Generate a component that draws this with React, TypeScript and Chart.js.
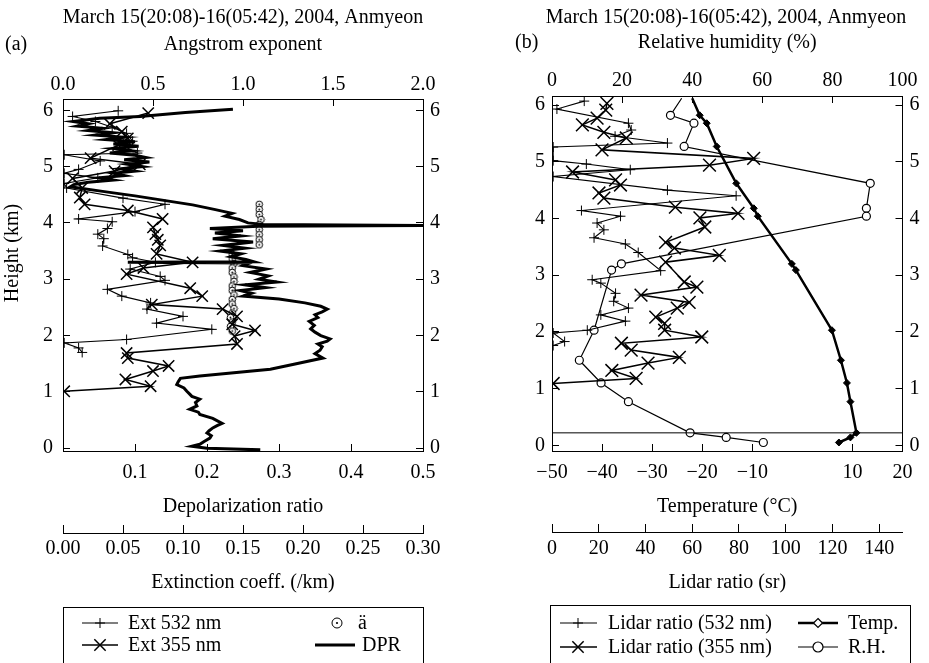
import React, { useEffect, useRef } from 'react';
import { Chart, registerables } from 'chart.js';

Chart.register(...registerables);

const SERIF = '"Liberation Serif", "DejaVu Serif", serif';
const FS = 20;

const panelTitle = 'March 15(20:08)-16(05:42), 2004, Anmyeon';

// ---------------- panel (a) ----------------
const heightTicks = [0, 1, 2, 3, 4, 5, 6];
const angstromTicks = [0, 0.5, 1, 1.5, 2];
const depolTicks = [0.1, 0.2, 0.3, 0.4, 0.5];
const extTicks = [0, 0.05, 0.1, 0.15, 0.2, 0.25, 0.3];

const dprHeight = [
  6.02, 5.96, 5.89, 5.86, 5.8, 5.76, 5.72, 5.68, 5.64, 5.6, 5.56, 5.52, 5.48, 5.44, 5.4, 5.36, 5.32, 5.28, 5.24, 5.2,
  5.16, 5.12, 5.08, 5.04, 5.0, 4.96, 4.92, 4.88, 4.84, 4.8, 4.76, 4.72, 4.68, 4.64, 4.56, 4.48, 4.4, 4.32, 4.24, 4.17,
  4.12, 4.06, 4.0, 3.97, 3.955, 3.94, 3.9, 3.86, 3.82, 3.77, 3.72, 3.66, 3.6, 3.55, 3.5, 3.45, 3.4, 3.35, 3.31, 3.3,
  3.29, 3.24, 3.18, 3.12, 3.06, 3.0, 2.95, 2.9, 2.85, 2.8, 2.75, 2.7, 2.65, 2.58, 2.52, 2.47, 2.42, 2.37, 2.32, 2.25,
  2.18, 2.12, 2.06, 2.0, 1.94, 1.9, 1.85, 1.8, 1.74, 1.68, 1.6, 1.5, 1.4, 1.33, 1.28, 1.24, 1.18, 1.13, 1.07, 1.01,
  0.96, 0.92, 0.87, 0.81, 0.75, 0.69, 0.64, 0.6, 0.53, 0.44, 0.4, 0.36, 0.31, 0.27, 0.22, 0.18, 0.12, 0.07, 0.035, 0.0,
  -0.03,
];
const dprValue = [
  0.236, 0.17, 0.107, 0.051, 0.014, 0.035, 0.02, 0.055, 0.035, 0.07, 0.045, 0.085, 0.06, 0.1, 0.07, 0.105, 0.07, 0.095, 0.065, 0.1,
  0.115, 0.085, 0.12, 0.09, 0.11, 0.08, 0.1, 0.07, 0.085, 0.05, 0.07, 0.035, 0.015, 0.01, 0.055, 0.1, 0.14, 0.18, 0.21, 0.235,
  0.225, 0.245, 0.257, 0.278, 0.5, 0.271, 0.204, 0.25, 0.211, 0.247, 0.208, 0.264, 0.222, 0.253, 0.218, 0.247, 0.233, 0.254, 0.265, 0.09,
  0.26, 0.25, 0.282, 0.26, 0.285, 0.272, 0.297, 0.253, 0.281, 0.246, 0.262, 0.25, 0.3, 0.336, 0.358, 0.367, 0.36, 0.35, 0.354, 0.342,
  0.349, 0.344, 0.35, 0.358, 0.371, 0.367, 0.354, 0.36, 0.357, 0.35, 0.361, 0.324, 0.288, 0.23, 0.19, 0.163, 0.16, 0.158, 0.168, 0.172,
  0.176, 0.179, 0.19, 0.184, 0.186, 0.176, 0.188, 0.19, 0.208, 0.221, 0.214, 0.208, 0.203, 0.2, 0.206, 0.204, 0.196, 0.19, 0.179, 0.2,
  0.274,
];

const ext532Height = [
  5.99, 5.89, 5.8, 5.7, 5.59, 5.45, 5.35, 5.24, 5.21, 5.1, 4.95, 4.88, 4.8, 4.7, 4.62, 4.44, 4.33, 4.2, 4.07, 4.02,
  3.9, 3.8, 3.72, 3.59, 3.44, 3.38, 3.3, 3.18, 3.05, 2.98, 2.82, 2.7, 2.58, 2.47, 2.34, 2.22, 2.11, 1.93, 1.87, 1.78, 1.7,
];
const ext532Value = [
  0.046, 0.008, 0.027, 0.041, 0.053, 0.058, 0.052, 0.062, 0.001, 0.031, 0.013, 0.001, 0.029, 0.001, 0.003, 0.05, 0.085, 0.06, 0.013, 0.041,
  0.037, 0.029, 0.034, 0.033, 0.054, 0.058, 0.077, 0.056, 0.081, 0.085, 0.037, 0.049, 0.073, 0.07, 0.1, 0.078, 0.124, 0.053, 0.001, 0.013, 0.016,
];

const ext355Height = [
  5.95, 5.76, 5.62, 5.5, 5.38, 5.15, 5.04, 4.92, 4.79, 4.62, 4.45, 4.33, 4.22, 4.07, 3.92, 3.8, 3.7, 3.6, 3.45, 3.3,
  3.2, 3.09, 2.84, 2.7, 2.55, 2.47, 2.34, 2.2, 2.09, 1.99, 1.85, 1.69, 1.6, 1.46, 1.37, 1.22, 1.1, 1.01,
];
const ext355Value = [
  0.071, 0.039, 0.049, 0.054, 0.046, 0.023, 0.064, 0.043, 0.008, 0.016, 0.014, 0.018, 0.054, 0.083, 0.075, 0.077, 0.079, 0.081, 0.078, 0.108,
  0.067, 0.053, 0.106, 0.116, 0.074, 0.133, 0.145, 0.141, 0.16, 0.143, 0.145, 0.053, 0.054, 0.088, 0.075, 0.052, 0.073, 0.001,
];

const angHeight = [
  4.33, 4.24, 4.15, 4.06, 3.97, 3.88, 3.79, 3.7, 3.61,
  3.44, 3.36, 3.28, 3.2, 3.12, 3.04, 2.96, 2.88, 2.8, 2.72, 2.64, 2.56, 2.48, 2.4, 2.32, 2.24, 2.16, 2.08,
];
const angValue = [
  1.09, 1.09, 1.09, 1.1, 1.09, 1.09, 1.09, 1.09, 1.09,
  0.94, 0.94, 0.95, 0.94, 0.94, 0.95, 0.95, 0.94, 0.94, 0.95, 0.94, 0.94, 0.95, 0.94, 0.93, 0.94, 0.93, 0.94,
];

// ---------------- panel (b) ----------------
const rhTicks = [0, 20, 40, 60, 80, 100];
const tempTicks = [-50, -40, -30, -20, -10, 10, 20];
const lidarTicks = [0, 20, 40, 60, 80, 100, 120, 140];

const sondeHeight = [6.12, 5.82, 5.68, 5.27, 4.62, 4.18, 4.04, 3.2, 3.09, 2.03, 1.5, 1.1, 0.77, 0.22, 0.14, 0.05];
const tempValue = [-22.0, -20.5, -19.1, -17.1, -13.2, -9.7, -8.9, -2.1, -1.3, 5.9, 7.7, 8.9, 9.6, 10.8, 9.6, 7.3];
const rhValue = [37.0, 33.8, 40.5, 37.7, 90.8, 89.7, 89.7, 19.8, 17.0, 12.0, 7.8, 14.0, 21.8, 39.4, 49.7, 60.3];

const lr532Height = [
  6.07, 5.93, 5.68, 5.56, 5.45, 5.33, 5.26, 5.02, 4.96, 4.86, 4.74, 4.5, 4.4, 4.14, 4.04, 3.92, 3.8, 3.66, 3.55, 3.4,
  3.08, 2.92, 2.86, 2.68, 2.54, 2.42, 2.3, 2.19, 2.03, 1.98, 1.83, 1.76,
];
const lr532Value = [
  13.8, 2.1, 32.7, 33.9, 27.0, 49.4, 0.5, 0.5, 14.7, 33.5, 0.5, 49.4, 78.8, 12.6, 29.3, 19.3, 22.2, 18.0, 31.4, 36.9,
  46.5, 17.2, 20.9, 27.2, 26.4, 32.7, 20.9, 31.4, 15.1, 0.5, 5.4, 0.5,
];

const lr355Height = [
  6.03, 5.91, 5.77, 5.65, 5.52, 5.42, 5.21, 5.06, 4.94, 4.82, 4.68, 4.59, 4.45, 4.36, 4.2, 4.09, 4.01, 3.85, 3.58, 3.48,
  3.35, 3.23, 2.88, 2.79, 2.65, 2.52, 2.42, 2.26, 2.15, 2.03, 1.91, 1.8, 1.68, 1.55, 1.45, 1.32, 1.18, 1.09,
];
const lr355Value = [
  23.5, 23.0, 19.3, 13.0, 22.2, 31.8, 21.4, 86.3, 67.4, 8.8, 27.2, 29.3, 20.1, 22.2, 52.8, 79.6, 63.3, 65.4, 48.6, 52.4,
  71.6, 48.6, 56.6, 62.0, 38.1, 58.7, 53.6, 44.4, 48.2, 48.2, 64.1, 29.7, 33.9, 54.5, 41.1, 25.6, 36.0, 0.5,
];

const refLineHeight = [0.22, 0.22];
const refLineValue = [0, 150];

// ---------------- helpers ----------------
const pts = (xs: number[], ys: number[]) => xs.map((x, i) => ({ x, y: ys[i] }));
const font = { family: SERIF, size: FS };
const grid = (tl: number) => ({
  display: true,
  drawOnChartArea: false,
  drawTicks: true,
  tickLength: tl,
  color: '#000',
  lineWidth: 1,
});
const border = { display: true, color: '#000', width: 1 };
const fixTicks = (vals: number[]) => (s: any) => {
  s.ticks = vals.map((v) => ({ value: v }));
};
const fixW = (w: number) => (s: any) => {
  s.width = w;
};
const fixH = (h: number) => (s: any) => {
  s.height = h;
};

function drawMark(ctx: CanvasRenderingContext2D, kind: string, x: number, y: number, r: number) {
  ctx.beginPath();
  if (kind === 'cross') {
    ctx.moveTo(x - r, y);
    ctx.lineTo(x + r, y);
    ctx.moveTo(x, y - r);
    ctx.lineTo(x, y + r);
    ctx.stroke();
  } else if (kind === 'x') {
    const d = r * 0.707;
    ctx.moveTo(x - d, y - d);
    ctx.lineTo(x + d, y + d);
    ctx.moveTo(x - d, y + d);
    ctx.lineTo(x + d, y - d);
    ctx.stroke();
  } else if (kind === 'circle' || kind === 'dotcircle') {
    ctx.arc(x, y, r, 0, Math.PI * 2);
    ctx.fillStyle = '#fff';
    ctx.fill();
    ctx.stroke();
    if (kind === 'dotcircle') {
      ctx.beginPath();
      ctx.arc(x, y, 1.1, 0, Math.PI * 2);
      ctx.fillStyle = '#000';
      ctx.fill();
    }
  } else if (kind === 'diamond') {
    ctx.moveTo(x, y - r);
    ctx.lineTo(x + r, y);
    ctx.lineTo(x, y + r);
    ctx.lineTo(x - r, y);
    ctx.closePath();
    ctx.fillStyle = '#fff';
    ctx.fill();
    ctx.stroke();
  }
  ctx.fillStyle = '#000';
}

type Item = {
  line: boolean; x0: number; x1: number; lw: number;
  kind: string; mx: number; r: number; mlw: number;
  y: number; text: string; tx: number;
};

function makeDecor(o: {
  titleX: number; tag: string; tagX: number; tagY: number;
  box: [number, number, number]; items: Item[];
  yTitle?: { text: string; x: number; y: number };
}) {
  return {
    id: 'decor',
    afterDraw(chart: any) {
      const ctx: CanvasRenderingContext2D = chart.ctx;
      ctx.save();
      ctx.fillStyle = '#000';
      ctx.strokeStyle = '#000';
      ctx.font = `${FS}px ${SERIF}`;
      ctx.textBaseline = 'middle';
      ctx.textAlign = 'center';
      ctx.fillText(panelTitle, o.titleX, 17.5);
      ctx.textAlign = 'left';
      ctx.fillText(o.tag, o.tagX, o.tagY);
      if (o.yTitle) {
        ctx.save();
        ctx.translate(o.yTitle.x, o.yTitle.y);
        ctx.rotate(-Math.PI / 2);
        ctx.textAlign = 'center';
        ctx.fillText(o.yTitle.text, 0, 0);
        ctx.restore();
      }
      const [bx0, bx1, by] = o.box;
      ctx.lineWidth = 1;
      ctx.strokeRect(bx0 + 0.5, by + 0.5, bx1 - bx0, 200);
      for (const it of o.items) {
        if (it.line) {
          ctx.lineWidth = it.lw;
          ctx.beginPath();
          ctx.moveTo(it.x0, it.y);
          ctx.lineTo(it.x1, it.y);
          ctx.stroke();
        }
        ctx.lineWidth = it.mlw;
        drawMark(ctx, it.kind, it.mx, it.y, it.r);
        ctx.textAlign = 'left';
        ctx.fillText(it.text, it.tx, it.y + 1);
      }
      ctx.restore();
    },
  };
}

function makeDotCircle(): HTMLCanvasElement {
  const c = document.createElement('canvas');
  c.width = 9;
  c.height = 9;
  const g = c.getContext('2d')!;
  g.strokeStyle = '#000';
  g.lineWidth = 1;
  g.beginPath();
  g.arc(4.5, 4.5, 3.3, 0, Math.PI * 2);
  g.fillStyle = '#fff';
  g.fill();
  g.stroke();
  g.beginPath();
  g.arc(4.5, 4.5, 0.9, 0, Math.PI * 2);
  g.fillStyle = '#000';
  g.fill();
  return c;
}

function configA(dotCircle: HTMLCanvasElement): any {
  return {
    type: 'scatter',
    data: {
      datasets: [
        {
          label: 'DPR', data: pts(dprValue, dprHeight), xAxisID: 'xd', yAxisID: 'y',
          showLine: true, borderColor: '#000', borderWidth: 3, pointRadius: 0,
        },
        {
          label: 'Ext 532 nm', data: pts(ext532Value, ext532Height), xAxisID: 'xe', yAxisID: 'y',
          showLine: true, borderColor: '#000', borderWidth: 1.1, pointStyle: 'cross', pointRadius: 5,
          pointBorderColor: '#000', pointBorderWidth: 1,
        },
        {
          label: 'Ext 355 nm', data: pts(ext355Value, ext355Height), xAxisID: 'xe', yAxisID: 'y',
          showLine: true, borderColor: '#000', borderWidth: 1.5, pointStyle: 'crossRot', pointRadius: 8,
          pointBorderColor: '#000', pointBorderWidth: 1.5,
        },
        {
          label: 'ä', data: pts(angValue, angHeight), xAxisID: 'xa', yAxisID: 'y',
          showLine: false, pointStyle: dotCircle, pointRadius: 4,
        },
      ],
    },
    options: {
      responsive: false,
      maintainAspectRatio: false,
      animation: false,
      events: [],
      layout: { padding: { top: 0, left: 0, right: 0, bottom: 64 } },
      plugins: { legend: { display: false }, tooltip: { enabled: false }, title: { display: false } },
      scales: {
        y: {
          type: 'linear', position: 'left', min: -0.05, max: 6.2,
          afterBuildTicks: fixTicks(heightTicks), afterFit: fixW(63),
          ticks: { font, color: '#000', padding: 17, autoSkip: false, callback: (v: any) => String(v) },
          grid: grid(-7), border,
        },
        y2: {
          type: 'linear', position: 'right', min: -0.05, max: 6.2,
          afterBuildTicks: fixTicks(heightTicks), afterFit: fixW(42),
          ticks: { font, color: '#000', padding: 14, autoSkip: false, callback: (v: any) => String(v) },
          grid: grid(-7), border,
        },
        xa: {
          type: 'linear', position: 'top', min: 0, max: 2,
          afterBuildTicks: fixTicks(angstromTicks), afterFit: fixH(99),
          ticks: { font, color: '#000', padding: 9, autoSkip: false, maxRotation: 0, callback: (v: any) => Number(v).toFixed(1) },
          grid: grid(-7), border,
          title: { display: true, text: 'Angstrom exponent', font, color: '#000', padding: { top: 33, bottom: 0 } },
        },
        xd: {
          type: 'linear', position: 'bottom', weight: 0, min: 0, max: 0.5,
          afterBuildTicks: fixTicks(depolTicks), afterFit: fixH(82),
          ticks: { font, color: '#000', padding: 16.5, autoSkip: false, maxRotation: 0, callback: (v: any) => Number(v).toFixed(1) },
          grid: grid(-7), border,
          title: { display: true, text: 'Depolarization ratio', font, color: '#000', padding: { top: 0, bottom: 14 } },
        },
        xe: {
          type: 'linear', position: 'bottom', weight: 1, min: 0, max: 0.3,
          afterBuildTicks: fixTicks(extTicks), afterFit: fixH(66),
          ticks: { font, color: '#000', padding: 11.5, autoSkip: false, maxRotation: 0, callback: (v: any) => Number(v).toFixed(2) },
          grid: grid(-8), border,
          title: { display: true, text: 'Extinction coeff. (/km)', font, color: '#000', padding: { top: 0, bottom: 4 } },
        },
      },
    },
    plugins: [
      makeDecor({
        titleX: 243, tag: '(a)', tagX: 5, tagY: 45,
        box: [63, 423, 607],
        yTitle: { text: 'Height (km)', x: 13, y: 253 },
        items: [
          { line: true, x0: 82, x1: 118, lw: 1.1, kind: 'cross', mx: 100, r: 5, mlw: 1, y: 623, text: 'Ext 532 nm', tx: 128 },
          { line: true, x0: 82, x1: 118, lw: 1.5, kind: 'x', mx: 100, r: 8, mlw: 1.5, y: 645, text: 'Ext 355 nm', tx: 128 },
          { line: false, x0: 0, x1: 0, lw: 1, kind: 'dotcircle', mx: 337, r: 5, mlw: 1, y: 623, text: 'ä', tx: 358 },
          { line: true, x0: 315, x1: 355, lw: 3, kind: 'none', mx: 0, r: 0, mlw: 1, y: 645, text: 'DPR', tx: 362 },
        ],
      }),
    ],
  };
}

function configB(): any {
  return {
    type: 'scatter',
    data: {
      datasets: [
        {
          label: 'ref', data: pts(refLineValue, refLineHeight), xAxisID: 'xl', yAxisID: 'y',
          showLine: true, borderColor: '#000', borderWidth: 1, pointRadius: 0,
        },
        {
          label: 'Lidar ratio (532 nm)', data: pts(lr532Value, lr532Height), xAxisID: 'xl', yAxisID: 'y',
          showLine: true, borderColor: '#000', borderWidth: 1.1, pointStyle: 'cross', pointRadius: 5,
          pointBorderColor: '#000', pointBorderWidth: 1,
        },
        {
          label: 'Lidar ratio (355 nm)', data: pts(lr355Value, lr355Height), xAxisID: 'xl', yAxisID: 'y',
          showLine: true, borderColor: '#000', borderWidth: 1.5, pointStyle: 'crossRot', pointRadius: 9,
          pointBorderColor: '#000', pointBorderWidth: 1.5,
        },
        {
          label: 'Temp.', data: pts(tempValue, sondeHeight), xAxisID: 'xt', yAxisID: 'y',
          showLine: true, borderColor: '#000', borderWidth: 2.5, pointStyle: 'rectRot',
          pointRadius: (c: any) => (c.dataIndex === 0 ? 0 : 3.5),
          pointBackgroundColor: '#000', pointBorderColor: '#000', pointBorderWidth: 1,
        },
        {
          label: 'R.H.', data: pts(rhValue, sondeHeight), xAxisID: 'xr', yAxisID: 'y',
          showLine: true, borderColor: '#000', borderWidth: 1.2, pointStyle: 'circle',
          pointRadius: (c: any) => (c.dataIndex === 0 ? 0 : 4),
          pointBackgroundColor: '#fff', pointBorderColor: '#000', pointBorderWidth: 1.2,
        },
      ],
    },
    options: {
      responsive: false,
      maintainAspectRatio: false,
      animation: false,
      events: [],
      layout: { padding: { top: 0, left: 0, right: 0, bottom: 65 } },
      plugins: { legend: { display: false }, tooltip: { enabled: false }, title: { display: false } },
      scales: {
        y: {
          type: 'linear', position: 'left', min: -0.1, max: 6.16,
          afterBuildTicks: fixTicks(heightTicks), afterFit: fixW(87),
          ticks: { font, color: '#000', padding: 14, autoSkip: false, callback: (v: any) => String(v) },
          grid: grid(-7), border,
        },
        y2: {
          type: 'linear', position: 'right', min: -0.1, max: 6.16,
          afterBuildTicks: fixTicks(heightTicks), afterFit: fixW(19),
          ticks: { font, color: '#000', padding: 14, autoSkip: false, callback: (v: any) => String(v) },
          grid: grid(-7), border,
        },
        xr: {
          type: 'linear', position: 'top', min: 0, max: 100,
          afterBuildTicks: fixTicks(rhTicks), afterFit: fixH(96),
          ticks: { font, color: '#000', padding: 10, autoSkip: false, maxRotation: 0, callback: (v: any) => String(v) },
          grid: grid(-7), border,
          title: { display: true, text: 'Relative humidity (%)', font, color: '#000', padding: { top: 31, bottom: 0 } },
        },
        xt: {
          type: 'linear', position: 'bottom', weight: 0, min: -50, max: 20,
          afterBuildTicks: fixTicks(tempTicks), afterFit: fixH(81),
          ticks: {
            font, color: '#000', padding: 16.5, autoSkip: false, maxRotation: 0,
            callback: (v: any) => (Number(v) < 0 ? '\u2212' + Math.abs(Number(v)) : String(v)),
          },
          grid: grid(-7), border,
          title: { display: true, text: 'Temperature (°C)', font, color: '#000', padding: { top: 0, bottom: 13 } },
        },
        xl: {
          type: 'linear', position: 'bottom', weight: 1, min: 0, max: 150,
          afterBuildTicks: fixTicks(lidarTicks), afterFit: fixH(66),
          ticks: { font, color: '#000', padding: 12.5, autoSkip: false, maxRotation: 0, callback: (v: any) => String(v) },
          grid: grid(-8), border,
          title: { display: true, text: 'Lidar ratio (sr)', font, color: '#000', padding: { top: 0, bottom: 3 } },
        },
      },
    },
    plugins: [
      makeDecor({
        titleX: 261, tag: '(b)', tagX: 50, tagY: 43,
        box: [85, 445, 605],
        items: [
          { line: true, x0: 95, x1: 132, lw: 1.1, kind: 'cross', mx: 113, r: 5, mlw: 1, y: 623, text: 'Lidar ratio (532 nm)', tx: 143 },
          { line: true, x0: 95, x1: 132, lw: 1.5, kind: 'x', mx: 113, r: 8, mlw: 1.5, y: 647, text: 'Lidar ratio (355 nm)', tx: 143 },
          { line: true, x0: 333, x1: 373, lw: 2.5, kind: 'diamond', mx: 353, r: 4.5, mlw: 1.2, y: 623, text: 'Temp.', tx: 383 },
          { line: true, x0: 333, x1: 373, lw: 1.2, kind: 'circle', mx: 353, r: 5, mlw: 1.2, y: 647, text: 'R.H.', tx: 383 },
        ],
      }),
    ],
  };
}

export default function App() {
  const leftRef = useRef<HTMLCanvasElement>(null);
  const rightRef = useRef<HTMLCanvasElement>(null);

  useEffect(() => {
    Chart.defaults.font.family = SERIF;
    Chart.defaults.font.size = FS;
    Chart.defaults.color = '#000';
    const dot = makeDotCircle();
    const a = new Chart(leftRef.current as HTMLCanvasElement, configA(dot));
    const b = new Chart(rightRef.current as HTMLCanvasElement, configB());
    return () => {
      a.destroy();
      b.destroy();
    };
  }, []);

  return (
    <div style={{ position: 'absolute', left: 0, top: 0, width: 929, height: 663, background: '#fff', overflow: 'hidden' }}>
      <canvas ref={leftRef} width={465} height={663} style={{ position: 'absolute', left: 0, top: 0, width: 465, height: 663 }} />
      <canvas ref={rightRef} width={464} height={663} style={{ position: 'absolute', left: 465, top: 0, width: 464, height: 663 }} />
    </div>
  );
}
